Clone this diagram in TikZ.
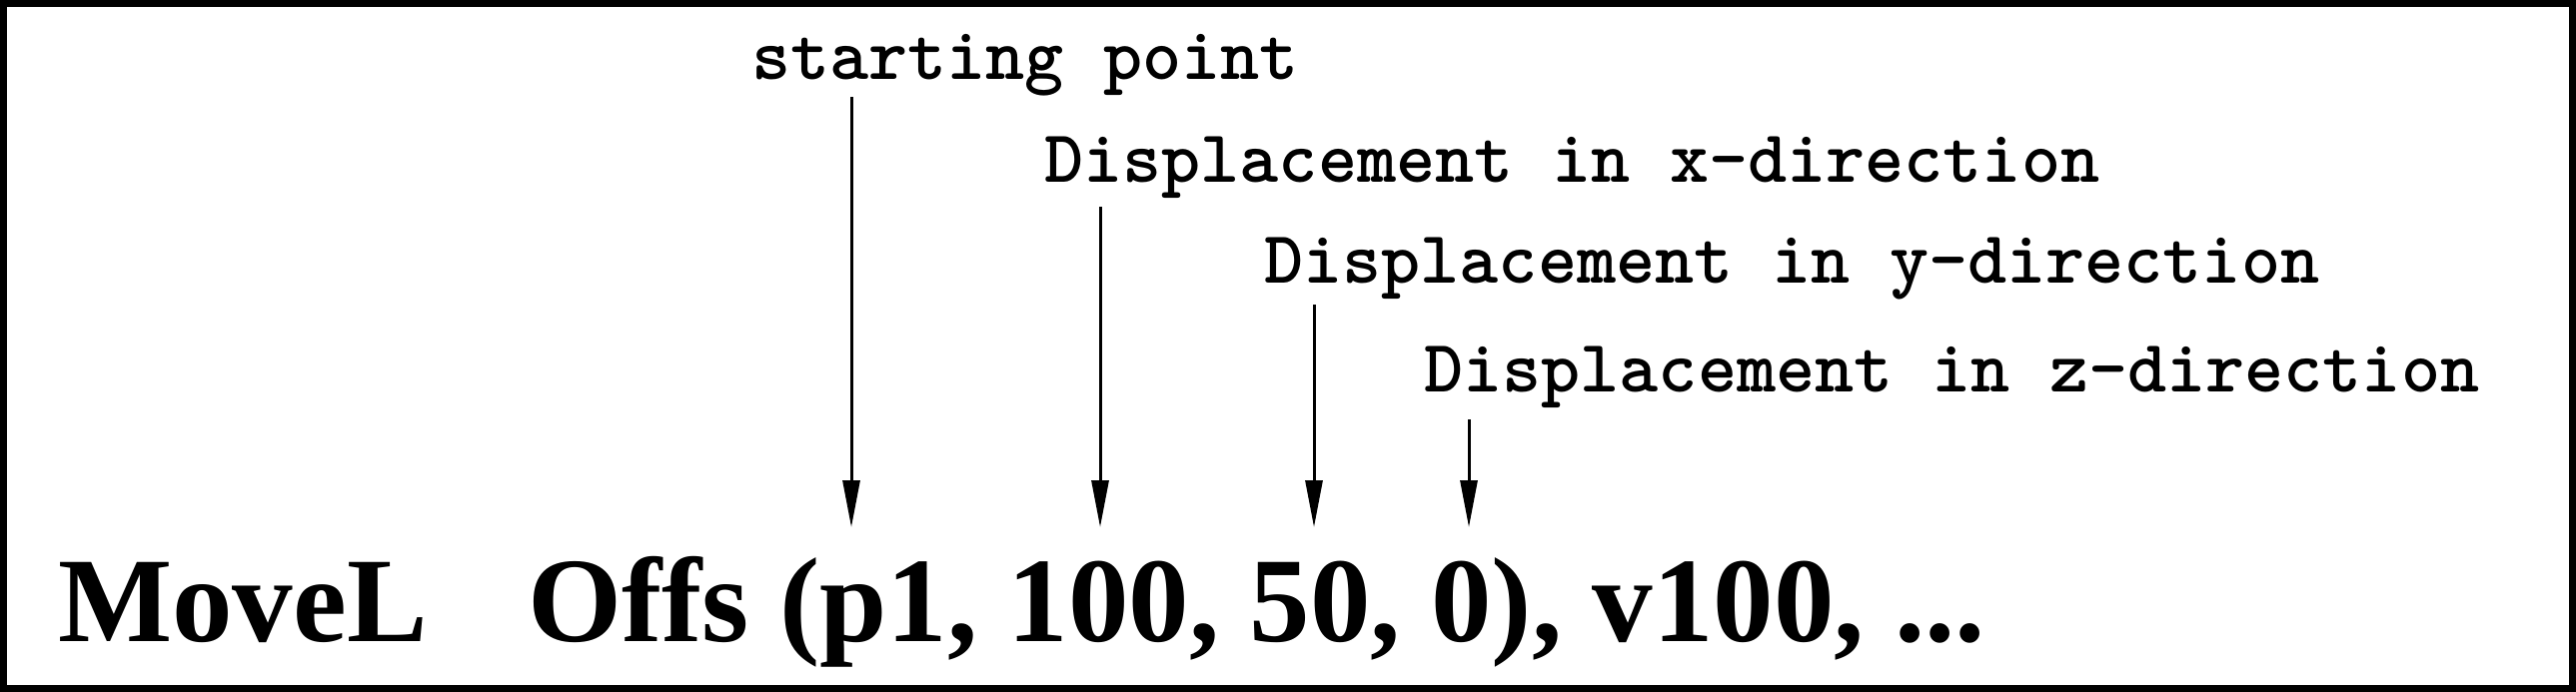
\documentclass[tikz,border=0pt]{standalone}
\usepackage{fontspec}
\setmainfont{Liberation Serif}
\newfontfamily\lblfont{lmmonolt10-bold.otf}
\usetikzlibrary{arrows.meta}
\tikzset{
  lbl/.style={anchor=base west, inner sep=0pt, font=\lblfont\fontsize{74.5}{80}\selectfont},
  code/.style={anchor=base west, inner sep=0pt, font=\bfseries\fontsize{121}{130}\selectfont},
  ptr/.style={line width=3pt, -{Triangle[length=47pt,width=17pt]}},
  frame/.style={line width=7pt}
}
\begin{document}
\begin{tikzpicture}[x=1pt,y=-1pt]
\useasboundingbox (0,0) rectangle (2578,693);
\draw[frame] (3.5,3.5) rectangle (2574.5,689.5);

% labels
\node[lbl] (lsp) at (752,80) {starting point};
\node[lbl] (lx) at (1045,182) {Displacement in x-direction};
\node[lbl] (ly) at (1265,283) {Displacement in y-direction};
\node[lbl] (lz) at (1425,392) {Displacement in z-direction};

% code line
\node[code] (cmd) at (58,642) {MoveL};
\node[code] (args) at (528,642) {Offs (p1, 100, 50, 0), v100, ...};

% arrow ends
\coordinate (s1) at (852,97);   \coordinate (e1) at (852,528);
\coordinate (s2) at (1101,207); \coordinate (e2) at (1101,528);
\coordinate (s3) at (1315,305); \coordinate (e3) at (1315,528);
\coordinate (s4) at (1470,420); \coordinate (e4) at (1470,528);

\draw[ptr] (s1) -- (e1);
\draw[ptr] (s2) -- (e2);
\draw[ptr] (s3) -- (e3);
\draw[ptr] (s4) -- (e4);
\end{tikzpicture}
\end{document}
